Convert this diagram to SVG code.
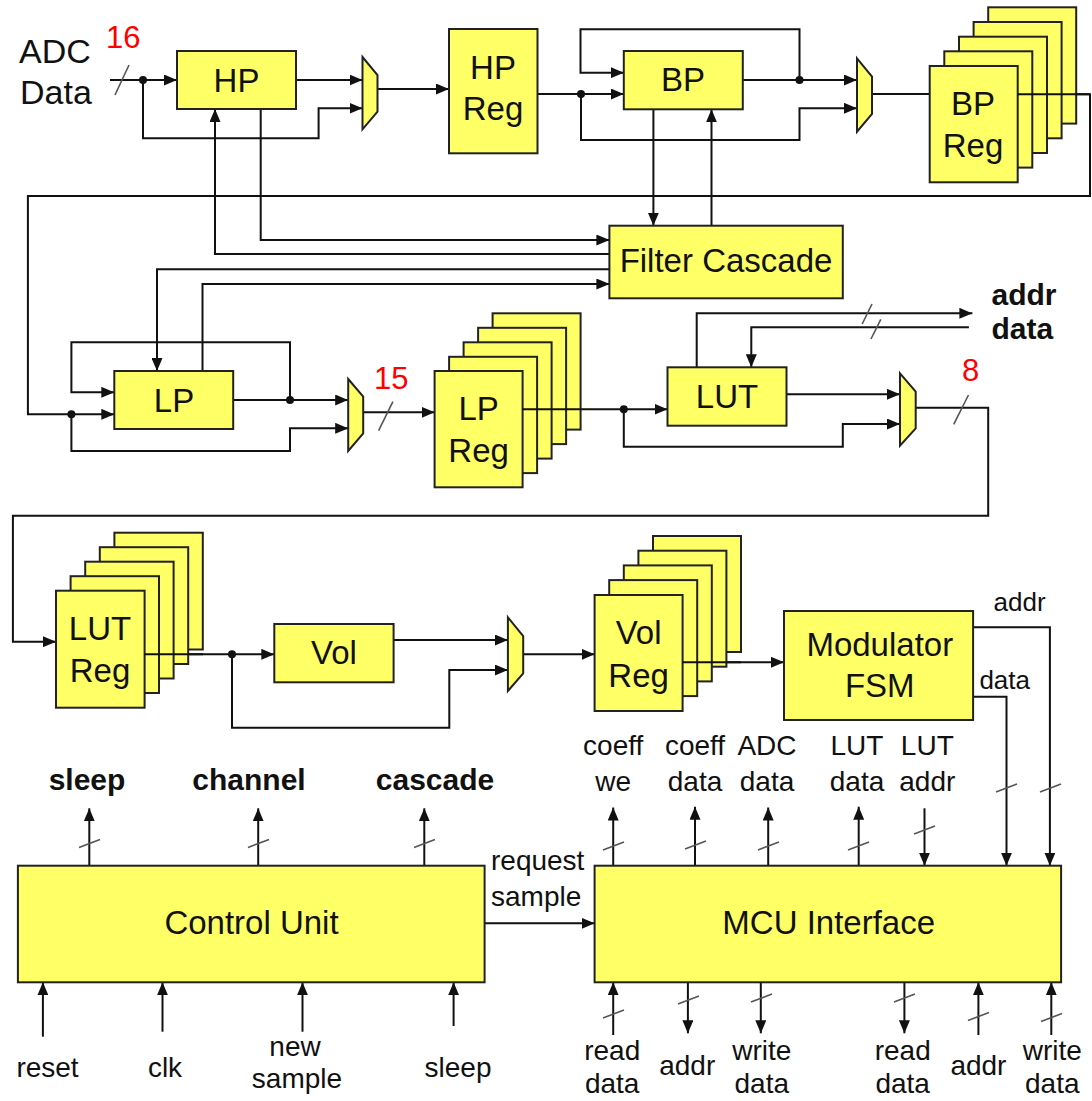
<svg xmlns="http://www.w3.org/2000/svg" width="1092" height="1101" viewBox="0 0 1092 1101">
<defs>
<marker id="arr" markerUnits="userSpaceOnUse" markerWidth="13" markerHeight="11" refX="13" refY="5.5" orient="auto"><path d="M0,0 L13,5.5 L0,11 z" fill="#111"/></marker>
<style>
.box{fill:#ffff66;stroke:#222;stroke-width:2}
.w{fill:none;stroke:#111;stroke-width:2}
.a{marker-end:url(#arr)}
.s{stroke:#555;stroke-width:1.6;fill:none}
.t{font-family:"Liberation Sans",Arial,sans-serif;fill:#111}
.bl{font-size:33px;text-anchor:middle}
.sm{font-size:28px;text-anchor:middle}
.hd{font-size:30px;font-weight:bold;text-anchor:middle}
.red{font-family:"Liberation Sans",Arial,sans-serif;font-size:31px;fill:#ff0000}
.dot{fill:#111}
</style>
</defs>
<rect width="1092" height="1101" fill="#ffffff"/>

<g id="connectors">
<!-- top row -->
<path class="w a" d="M110,80 H177"/>
<path class="w a" d="M143,80 V138.3 H318.6 V108.3 H362.5"/>
<path class="w a" d="M296,80 H362.5"/>
<path class="w a" d="M377.5,89 H449"/>
<path class="w a" d="M537.5,94 H623.8"/>
<path class="w a" d="M799.5,80 V29.3 H580.5 V72.7 H623.8"/>
<path class="w a" d="M742.8,80 H857"/>
<path class="w a" d="M581,94 V140 H799.5 V108.3 H857"/>
<path class="w" d="M872,94 H929.7"/>
<path class="w a" d="M1017.7,94.3 H1090 V196 H27.9 V414.3 H114.3"/>
<path class="w a" d="M260.7,109 V240 H609.4"/>
<path class="w a" d="M609.4,254 H215 V109"/>
<path class="w a" d="M609.4,269.3 H157 V371"/>
<path class="w a" d="M202.5,371 V284 H609.4"/>
<path class="w a" d="M653.4,109.3 V225.7"/>
<path class="w a" d="M711.5,225.7 V109.3"/>
<!-- LP row -->
<path class="w a" d="M290,400 V342.3 H71.4 V392.3 H114.3"/>
<path class="w a" d="M233.2,400 H348.2"/>
<path class="w a" d="M71.4,414.3 V451 H290 V428.3 H348.2"/>
<path class="w a" d="M363.2,412.3 H434.6"/>
<path class="w a" d="M522.5,409.3 H667.5"/>
<path class="w a" d="M623.8,409.3 V446.7 H842.8 V424 H900"/>
<path class="w a" d="M786.5,394.3 H900"/>
<path class="w a" d="M915.7,407.7 H988.2 V515.7 H12.9 V641.7 H56"/>
<path class="w a" d="M696.7,367.3 V313.3 H972.4"/>
<path class="w a" d="M968.9,327.3 H751.3 V367.3"/>
<!-- bottom pipeline -->
<path class="w a" d="M144.6,654.3 H274.3"/>
<path class="w a" d="M393.6,640 H507.9"/>
<path class="w a" d="M232,654.3 V727.7 H449.3 V670 H507.9"/>
<path class="w a" d="M523.2,654.3 H594.6"/>
<path class="w a" d="M682.6,662.3 H784"/>
<path class="w a" d="M973.1,627.3 H1049.9 V865.7"/>
<path class="w a" d="M973.1,696.7 H1006.5 V865.7"/>
<!-- control unit -->
<path class="w a" d="M89.3,865.7 V808.3"/>
<path class="w a" d="M258.2,865.7 V808.3"/>
<path class="w a" d="M424.3,865.7 V808.3"/>
<path class="w a" d="M484.6,923.3 H594.6"/>
<path class="w a" d="M42.9,1036.7 V982.3"/>
<path class="w a" d="M162.5,1031.7 V982.3"/>
<path class="w a" d="M302.5,1031.7 V982.3"/>
<path class="w a" d="M453.6,1026 V982.3"/>
<!-- MCU -->
<path class="w a" d="M613.2,865.7 V807.5"/>
<path class="w a" d="M695,865.7 V806.7"/>
<path class="w a" d="M768.2,865.7 V807.5"/>
<path class="w a" d="M858.7,865.7 V806.7"/>
<path class="w a" d="M924.5,808.3 V865.7"/>
<path class="w a" d="M613.2,1035 V982.3"/>
<path class="w a" d="M687.9,982.3 V1033.3"/>
<path class="w a" d="M760.8,982.3 V1033.3"/>
<path class="w a" d="M904.4,982.3 V1033.3"/>
<path class="w a" d="M978.4,1035 V982.3"/>
<path class="w a" d="M1051.3,1035 V982.3"/>
<!-- dots -->
<circle class="dot" cx="143" cy="80" r="4"/>
<circle class="dot" cx="581" cy="94" r="4"/>
<circle class="dot" cx="799.5" cy="80" r="4"/>
<circle class="dot" cx="71.4" cy="414.3" r="4"/>
<circle class="dot" cx="290" cy="400" r="4"/>
<circle class="dot" cx="623.8" cy="409.3" r="4"/>
<circle class="dot" cx="232" cy="654.3" r="4"/>
<!-- bus slashes -->
<path class="s" d="M115,95 L129,65"/>
<path class="s" d="M378.6,430.7 L392.9,401.7"/>
<path class="s" d="M953.7,424.3 L968.5,395"/>
<path class="s" d="M862.2,324 L872,304"/>
<path class="s" d="M871,339 L880.8,319.3"/>
<path class="s" d="M79,847.5 L100,839.5"/>
<path class="s" d="M248,847.5 L269,839.5"/>
<path class="s" d="M414,847.5 L435,839.5"/>
<path class="s" d="M603,850 L624,842"/>
<path class="s" d="M685,849 L706,841"/>
<path class="s" d="M758,850 L779,842"/>
<path class="s" d="M848,850 L869,842"/>
<path class="s" d="M914,834 L935,826"/>
<path class="s" d="M996,792 L1017,784"/>
<path class="s" d="M1040,792 L1061,784"/>
<path class="s" d="M603,1018 L624,1010"/>
<path class="s" d="M678,1004 L699,996"/>
<path class="s" d="M751,1002 L772,994"/>
<path class="s" d="M894,1002 L915,994"/>
<path class="s" d="M968,1020.5 L989,1012.5"/>
<path class="s" d="M1041,1021.5 L1062,1013.5"/>
</g>

<g id="node-hp">
<rect class="box" x="177" y="51" width="119" height="58"/>
<text class="t bl" x="236.5" y="91.5">HP</text>
</g>
<g id="node-mux1"><polygon class="box" points="362.5,57 377.5,75 377.5,111.7 362.5,129.3"/></g>
<g id="node-hpreg">
<rect class="box" x="449" y="29" width="88.5" height="124.3"/>
<text class="t bl" x="493" y="79">HP</text>
<text class="t bl" x="493" y="120">Reg</text>
</g>
<g id="node-bp">
<rect class="box" x="623.8" y="51" width="119" height="58.3"/>
<text class="t bl" x="683" y="91">BP</text>
</g>
<g id="node-mux2"><polygon class="box" points="857,58.3 872,76.7 872,114 857,131.7"/></g>
<g id="node-bpreg">
<rect class="box" x="988.2" y="7.3" width="88" height="116.3"/>
<rect class="box" x="973.6" y="22" width="88" height="116.3"/>
<rect class="box" x="959" y="36.7" width="88" height="116.3"/>
<rect class="box" x="944.3" y="51.3" width="88" height="116.3"/>
<rect class="box" x="929.7" y="66" width="88" height="116.3"/>
<text class="t bl" x="973" y="115">BP</text>
<text class="t bl" x="973" y="156.5">Reg</text>
<path class="w" d="M1017.7,94.3 H1090"/>
</g>
<g id="node-filter-cascade">
<rect class="box" x="609.4" y="225.7" width="233.4" height="72.6"/>
<text class="t bl" x="726" y="271.5">Filter Cascade</text>
</g>
<g id="node-lp">
<rect class="box" x="114.3" y="371" width="118.9" height="58"/>
<text class="t bl" x="174" y="411.5">LP</text>
</g>
<g id="node-mux3"><polygon class="box" points="348.2,379 363.2,396.7 363.2,433.3 348.2,451"/></g>
<text class="red" x="374" y="389">15</text>
<g id="node-lpreg">
<rect class="box" x="492.6" y="313.3" width="88" height="116.3"/>
<rect class="box" x="478.1" y="327.8" width="88" height="116.3"/>
<rect class="box" x="463.6" y="342.3" width="88" height="116.3"/>
<rect class="box" x="449.1" y="356.8" width="88" height="116.3"/>
<rect class="box" x="434.6" y="371" width="88" height="116.3"/>
<text class="t bl" x="478.6" y="420">LP</text>
<text class="t bl" x="478.6" y="461.5">Reg</text>
<path class="w" d="M522.5,409.3 H581"/>
</g>
<g id="node-lut">
<rect class="box" x="667.5" y="367.3" width="119" height="58.4"/>
<text class="t bl" x="727" y="407.5">LUT</text>
</g>
<g id="node-mux4"><polygon class="box" points="900,373.3 915.7,391.7 915.7,428.3 900,445.7"/></g>
<text class="red" x="962" y="381">8</text>
<text class="red" x="106" y="47.5">16</text>
<text class="t" x="19" y="63" font-size="34">ADC</text>
<text class="t" x="20" y="104" font-size="34">Data</text>
<text class="t" x="991.5" y="305" font-size="30" font-weight="bold">addr</text>
<text class="t" x="991.5" y="339" font-size="30" font-weight="bold">data</text>
<g id="node-lutreg">
<rect class="box" x="114.4" y="532.7" width="88.4" height="116.8"/>
<rect class="box" x="99.8" y="547.2" width="88.4" height="116.8"/>
<rect class="box" x="85.2" y="561.7" width="88.4" height="116.8"/>
<rect class="box" x="70.6" y="576.2" width="88.4" height="116.8"/>
<rect class="box" x="56" y="590.7" width="88.6" height="117"/>
<text class="t bl" x="100" y="640">LUT</text>
<text class="t bl" x="100" y="681.5">Reg</text>
<path class="w" d="M144.6,654.3 H203"/>
</g>
<g id="node-vol">
<rect class="box" x="274.3" y="624" width="119.3" height="58.3"/>
<text class="t bl" x="334" y="664.3">Vol</text>
</g>
<g id="node-mux5"><polygon class="box" points="507.9,617.3 523.2,636 523.2,673.3 507.9,691"/></g>
<g id="node-volreg">
<rect class="box" x="653" y="536" width="88" height="116"/>
<rect class="box" x="638.4" y="550.7" width="88" height="116"/>
<rect class="box" x="623.8" y="565.4" width="88" height="116"/>
<rect class="box" x="609.2" y="580.1" width="88" height="116"/>
<rect class="box" x="594.6" y="595" width="88" height="116"/>
<text class="t bl" x="638.6" y="644">Vol</text>
<text class="t bl" x="638.6" y="686.5">Reg</text>
<path class="w" d="M682.6,662.3 H741"/>
</g>
<g id="node-modulator">
<rect class="box" x="784" y="611" width="189.1" height="109"/>
<text class="t bl" x="879.8" y="655.5">Modulator</text>
<text class="t bl" x="879.8" y="696.5">FSM</text>
</g>
<text class="t" x="993.5" y="611" font-size="26">addr</text>
<text class="t" x="979.4" y="689" font-size="26">data</text>

<g id="node-control-unit">
<rect class="box" x="17.9" y="865.7" width="466.7" height="116.6"/>
<text class="t bl" x="251.5" y="934">Control Unit</text>
</g>
<text class="t hd" x="87" y="790">sleep</text>
<text class="t hd" x="249" y="790">channel</text>
<text class="t hd" x="435" y="790">cascade</text>
<text class="t" x="491" y="870" font-size="28">request</text>
<text class="t" x="491" y="905.5" font-size="28">sample</text>
<text class="t sm" x="47.5" y="1076.5">reset</text>
<text class="t sm" x="165" y="1076.5">clk</text>
<text class="t sm" x="295" y="1056">new</text>
<text class="t sm" x="297" y="1088">sample</text>
<text class="t sm" x="458" y="1076.5">sleep</text>

<g id="node-mcu-interface">
<rect class="box" x="594.6" y="865.7" width="466.5" height="116.6"/>
<text class="t bl" x="828.7" y="934">MCU Interface</text>
</g>
<text class="t sm" x="613.2" y="755">coeff</text>
<text class="t sm" x="613.2" y="790.5">we</text>
<text class="t sm" x="695" y="755">coeff</text>
<text class="t sm" x="695" y="790.5">data</text>
<text class="t sm" x="767" y="755">ADC</text>
<text class="t sm" x="767" y="790.5">data</text>
<text class="t sm" x="857" y="755">LUT</text>
<text class="t sm" x="857" y="790.5">data</text>
<text class="t sm" x="927.3" y="755">LUT</text>
<text class="t sm" x="927.3" y="790.5">addr</text>
<text class="t sm" x="612.2" y="1060">read</text>
<text class="t sm" x="612.2" y="1093">data</text>
<text class="t sm" x="687.2" y="1075">addr</text>
<text class="t sm" x="761.8" y="1060">write</text>
<text class="t sm" x="761.8" y="1093">data</text>
<text class="t sm" x="902.7" y="1060">read</text>
<text class="t sm" x="902.7" y="1093">data</text>
<text class="t sm" x="978.4" y="1075">addr</text>
<text class="t sm" x="1052.3" y="1060">write</text>
<text class="t sm" x="1052.3" y="1093">data</text>
</svg>
